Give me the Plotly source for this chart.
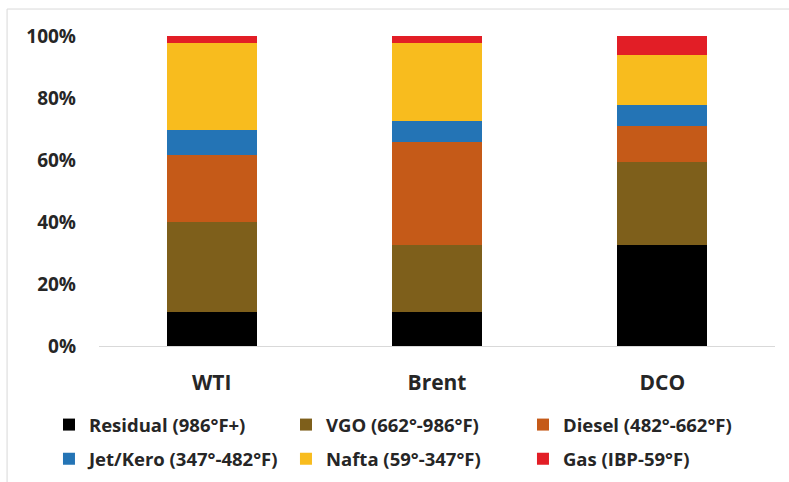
import plotly.graph_objects as go

crudes = ["WTI", "Brent", "DCO"]

fractions = [
    "Residual (986°F+)",
    "VGO (662°-986°F)",
    "Diesel (482°-662°F)",
    "Jet/Kero (347°-482°F)",
    "Nafta (59°-347°F)",
    "Gas (IBP-59°F)",
]

# Share of each distillation cut (%), per crude
residual = [10.9, 10.9, 32.6]
vgo = [29.0, 21.7, 26.9]
diesel = [21.7, 33.1, 11.4]
jet_kero = [8.1, 7.0, 6.8]
nafta = [28.0, 25.0, 16.2]
gas = [2.3, 2.3, 6.1]

series = [residual, vgo, diesel, jet_kero, nafta, gas]
colors = ["#000000", "#7E5F1B", "#C55A18", "#2474B5", "#F8BC1E", "#E21E26"]

FONT = "Open Sans"

fig = go.Figure()
for i, (name, vals, col) in enumerate(zip(fractions, series, colors)):
    fig.add_trace(go.Bar(
        x=crudes, y=vals, name=name,
        marker=dict(color=col, line=dict(width=0)),
        legend="legend" if i < 3 else "legend2",
    ))

legend_common = dict(
    orientation="h",
    xanchor="left",
    yanchor="middle",
    x=-0.074,
    entrywidth=192,
    entrywidthmode="pixels",
    font=dict(family=FONT, size=18.5, color="#262626", weight="bold"),
    bgcolor="rgba(0,0,0,0)",
    itemclick=False,
    traceorder="normal",
)

fig.update_layout(
    width=789,
    height=482,
    barmode="stack",
    bargap=0.6,
    margin=dict(l=99, r=14, t=36, b=136, autoexpand=False),
    paper_bgcolor="white",
    plot_bgcolor="white",
    font=dict(family=FONT, color="#262626"),
    legend=dict(y=-0.255, **legend_common),
    legend2=dict(y=-0.365, **legend_common),
    xaxis=dict(
        showline=True, linecolor="#D9D9D9", linewidth=1,
        showgrid=False, ticks="",
        tickfont=dict(family=FONT, size=21, color="#262626", weight="bold"),
        ticklabelstandoff=18,
    ),
    yaxis=dict(
        range=[0, 100],
        tickvals=[0, 20, 40, 60, 80, 100],
        ticktext=["0%", "20%", "40%", "60%", "80%", "100%"],
        showgrid=False, zeroline=False, showline=False, ticks="",
        tickfont=dict(family=FONT, size=19, color="#262626", weight="bold"),
        ticklabelstandoff=22,
    ),
    shapes=[
        dict(
            type="rect", xref="paper", yref="paper",
            x0=-0.136, x1=1.1, y0=-0.6, y1=1.087,
            line=dict(color="#D9D9D9", width=1),
            fillcolor="rgba(0,0,0,0)", layer="below",
        )
    ],
)

fig.write_html("out.html")
